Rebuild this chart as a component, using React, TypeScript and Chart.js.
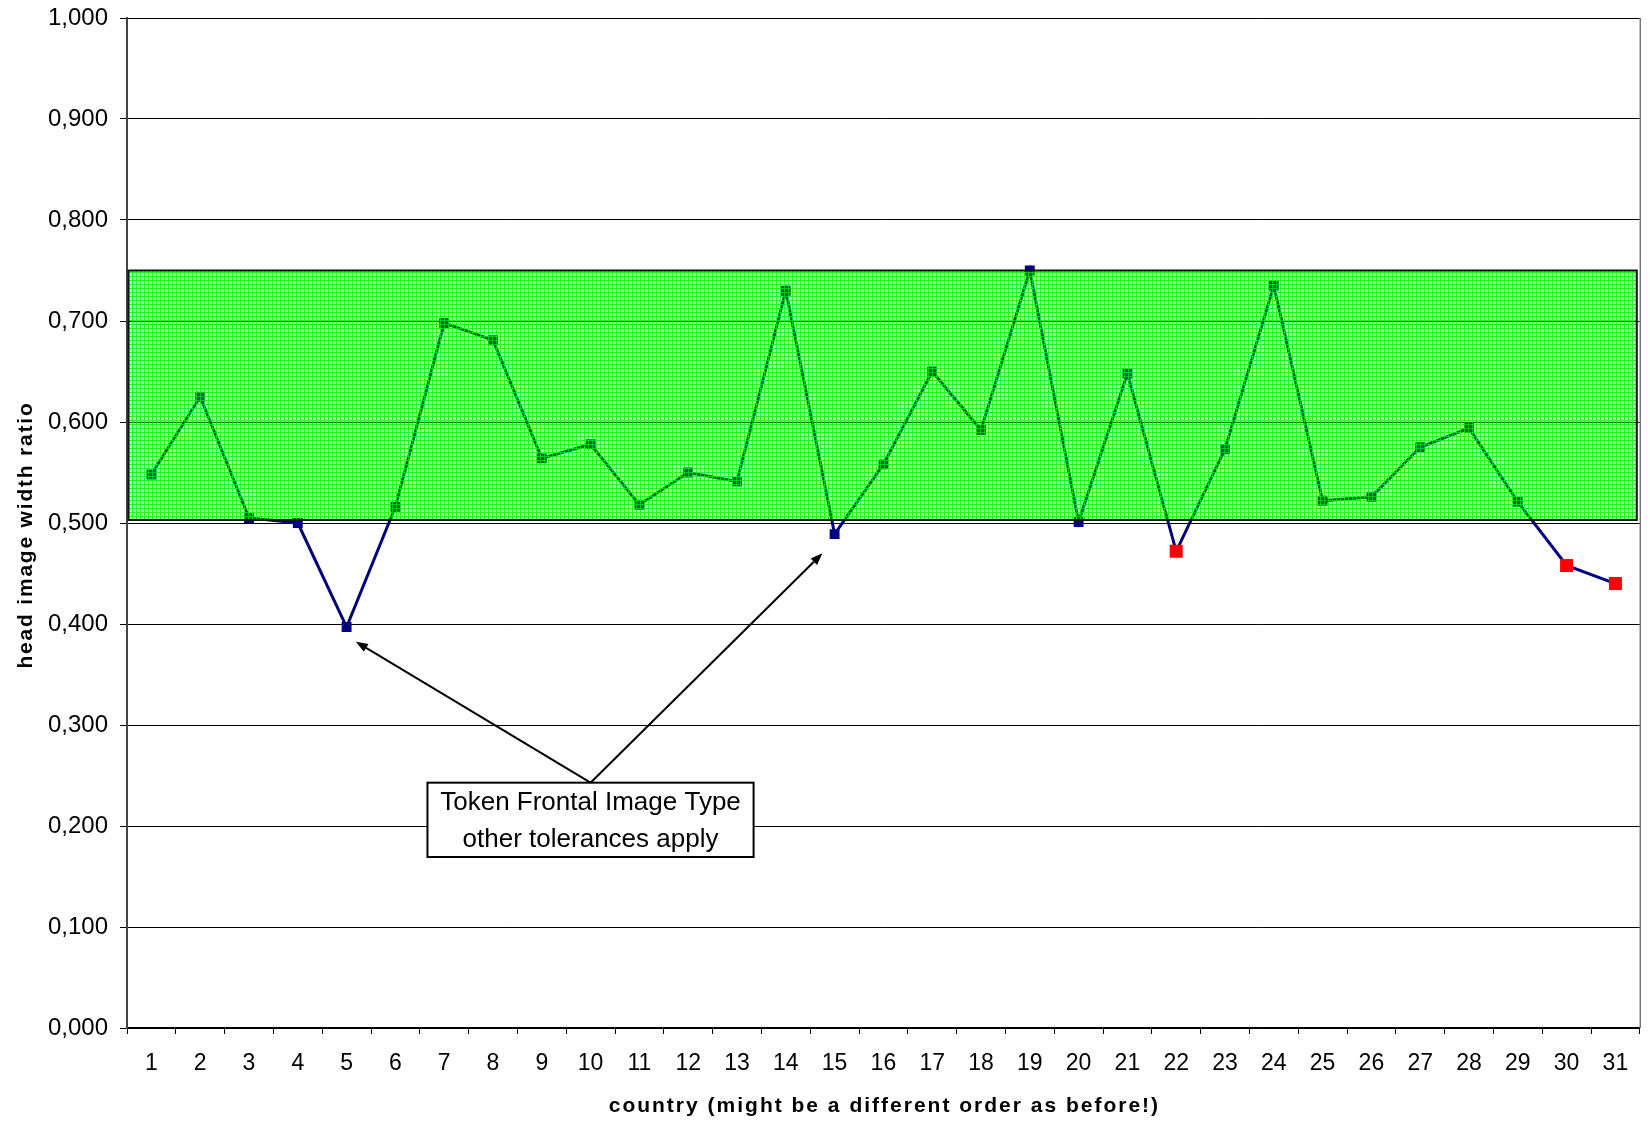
import React, { useEffect, useRef } from 'react';
import { Chart, registerables } from 'chart.js';

Chart.register(...registerables);

// ---- data ----
const countries = ['1', '2', '3', '4', '5', '6', '7', '8', '9', '10', '11', '12', '13', '14', '15', '16', '17', '18', '19', '20', '21', '22', '23', '24', '25', '26', '27', '28', '29', '30', '31'];
const headWidthRatio = [0.548, 0.625, 0.505, 0.500, 0.397, 0.516, 0.698, 0.681, 0.564, 0.578, 0.518, 0.550, 0.541, 0.730, 0.489, 0.558, 0.650, 0.592, 0.750, 0.501, 0.648, 0.472, 0.573, 0.735, 0.522, 0.526, 0.575, 0.594, 0.521, 0.458, 0.440];
const flaggedCountries = ['22', '30', '31'];
const toleranceLow = 0.503;
const toleranceHigh = 0.75;
const yAxisTitle = 'head image width ratio';
const xAxisTitle = 'country (might be a different order as before!)';
const noteLines = ['Token Frontal Image Type', 'other tolerances apply'];
// annotation anchors in data units (x = category index, 0-based)
const noteBox = { left: 5.657, right: 12.34, top: 0.2429, bottom: 0.1693 };
const arrowTargets = [
  { x: 4.19, y: 0.3825 },
  { x: 13.75, y: 0.47 },
];

const FONT = "'Liberation Sans', Arial, sans-serif";

function makePattern(ctx: CanvasRenderingContext2D) {
  const c = document.createElement('canvas');
  c.width = 4;
  c.height = 4;
  const p = c.getContext('2d')!;
  p.fillStyle = 'rgba(0,255,0,0.36)';
  p.fillRect(0, 0, 4, 4);
  p.fillStyle = 'rgba(0,235,0,0.72)';
  p.fillRect(0, 0, 4, 1);
  p.fillRect(0, 1, 1, 3);
  return ctx.createPattern(c, 'repeat');
}

const bandPlugin = {
  id: 'toleranceBand',
  afterDatasetsDraw(chart: any) {
    const { ctx, chartArea, scales } = chart;
    const y1 = scales.y.getPixelForValue(toleranceHigh);
    const y2 = scales.y.getPixelForValue(toleranceLow);
    const x1 = chartArea.left + 1.5;
    const x2 = chartArea.right - 3;
    ctx.save();
    const pat = makePattern(ctx);
    if (pat) ctx.fillStyle = pat;
    ctx.fillRect(x1, y1, x2 - x1, y2 - y1);
    ctx.strokeStyle = '#111';
    ctx.lineWidth = 2;
    ctx.strokeRect(x1, y1, x2 - x1, y2 - y1);
    ctx.restore();
  },
};

function drawArrow(ctx: CanvasRenderingContext2D, fx: number, fy: number, tx: number, ty: number) {
  const ang = Math.atan2(ty - fy, tx - fx);
  const len = 12;
  const hw = 4.5;
  const bx = tx - Math.cos(ang) * len;
  const by = ty - Math.sin(ang) * len;
  ctx.beginPath();
  ctx.moveTo(fx, fy);
  ctx.lineTo(bx, by);
  ctx.stroke();
  ctx.beginPath();
  ctx.moveTo(tx, ty);
  ctx.lineTo(bx + Math.sin(ang) * hw, by - Math.cos(ang) * hw);
  ctx.lineTo(bx - Math.sin(ang) * hw, by + Math.cos(ang) * hw);
  ctx.closePath();
  ctx.fill();
}

const decorPlugin = {
  id: 'decor',
  afterDraw(chart: any) {
    const { ctx, chartArea, scales } = chart;
    const xs = scales.x;
    const ys = scales.y;
    ctx.save();
    // right border
    ctx.strokeStyle = '#777';
    ctx.lineWidth = 1.5;
    ctx.beginPath();
    ctx.moveTo(chartArea.right + 0.5, chartArea.top);
    ctx.lineTo(chartArea.right + 0.5, chartArea.bottom);
    ctx.stroke();

    // note box
    const bl = xs.getPixelForValue(noteBox.left);
    const br = xs.getPixelForValue(noteBox.right);
    const bt = ys.getPixelForValue(noteBox.top);
    const bb = ys.getPixelForValue(noteBox.bottom);
    const cx = (bl + br) / 2;
    ctx.fillStyle = '#fff';
    ctx.fillRect(bl, bt, br - bl, bb - bt);
    ctx.strokeStyle = '#000';
    ctx.lineWidth = 2;
    ctx.strokeRect(bl, bt, br - bl, bb - bt);
    ctx.fillStyle = '#000';
    ctx.font = `26px ${FONT}`;
    ctx.textAlign = 'center';
    ctx.textBaseline = 'middle';
    const h = bb - bt;
    ctx.fillText(noteLines[0], cx, bt + h * 0.27);
    ctx.fillText(noteLines[1], cx, bt + h * 0.77);

    // arrows
    ctx.lineWidth = 2;
    ctx.strokeStyle = '#000';
    ctx.fillStyle = '#000';
    for (const t of arrowTargets) {
      drawArrow(ctx, cx, bt, xs.getPixelForValue(t.x), ys.getPixelForValue(t.y));
    }

    // axis titles
    ctx.fillStyle = '#000';
    ctx.font = `bold 21px ${FONT}`;
    (ctx as any).letterSpacing = '2px';
    ctx.textAlign = 'center';
    ctx.textBaseline = 'middle';
    ctx.fillText(xAxisTitle, (chartArea.left + chartArea.right) / 2 + 1, 1106);
    (ctx as any).letterSpacing = '1.8px';
    ctx.translate(26, (chartArea.top + chartArea.bottom) / 2 + 12);
    ctx.rotate(-Math.PI / 2);
    ctx.fillText(yAxisTitle, 0, 0);
    ctx.restore();
  },
};

export default function App() {
  const ref = useRef<HTMLCanvasElement | null>(null);
  useEffect(() => {
    if (!ref.current) return;
    const colors = countries.map((c) => (flaggedCountries.includes(c) ? '#ff0000' : '#000080'));
    const radii = countries.map((c) => (flaggedCountries.includes(c) ? 9.2 : 7));
    const chart = new Chart(ref.current, {
      type: 'line',
      data: {
        labels: countries,
        datasets: [
          {
            data: headWidthRatio,
            borderColor: '#000080',
            borderWidth: 3,
            pointStyle: 'rect',
            pointRadius: radii,
            pointBackgroundColor: colors,
            pointBorderWidth: 0,
            pointBorderColor: colors,
            tension: 0,
          },
        ],
      },
      options: {
        animation: false,
        responsive: false,
        maintainAspectRatio: false,
        layout: { padding: { top: 18, right: 8, left: 0, bottom: 0 } },
        plugins: { legend: { display: false }, tooltip: { enabled: false } },
        scales: {
          x: {
            type: 'category',
            offset: true,
            grid: { display: true, drawOnChartArea: false, drawTicks: true, tickLength: 6, color: '#000', offset: true },
            border: { display: true, color: '#000', width: 1.5 },
            ticks: { color: '#000', font: { family: FONT, size: 23 }, padding: 16, maxRotation: 0, autoSkip: false },
            afterFit: (s: any) => {
              s.height = 93;
              s.paddingLeft = 0;
              s.paddingRight = 0;
            },
          },
          y: {
            min: 0,
            max: 1,
            grid: { color: '#000', lineWidth: 1, tickLength: 7 },
            border: { display: true, color: '#444', width: 2 },
            ticks: {
              stepSize: 0.1,
              color: '#000',
              font: { family: FONT, size: 24 },
              padding: 12,
              callback: (v: any) => Number(v).toFixed(3).replace('.', ','),
            },
            afterFit: (s: any) => {
              s.width = 127;
              s.paddingTop = 0;
              s.paddingBottom = 0;
            },
          },
        },
      },
      plugins: [bandPlugin, decorPlugin],
    });
    return () => chart.destroy();
  }, []);
  return (
    <div style={{ position: 'fixed', left: 0, top: 0, width: 1649, height: 1121, background: '#fff' }}>
      <canvas ref={ref} width={1649} height={1121} style={{ width: 1649, height: 1121, display: 'block' }} />
    </div>
  );
}
